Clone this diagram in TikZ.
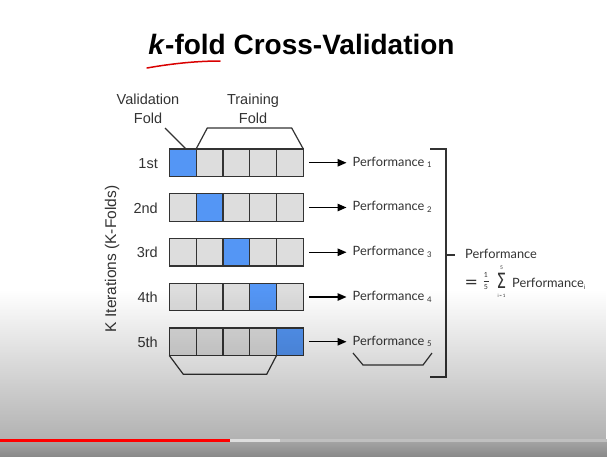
\documentclass[tikz,border=0pt]{standalone}
\usepackage{fontspec}
\setmainfont{Liberation Sans}
\newfontfamily\latofont{Lato}
\newfontfamily\djvfont{DejaVu Sans}
\usetikzlibrary{arrows.meta,fadings}
\definecolor{ink}{HTML}{333333}
\definecolor{cellgray}{HTML}{DDDDDD}
\definecolor{cellblue}{RGB}{84,150,245}
\definecolor{ytred}{RGB}{255,0,0}
\definecolor{ytlight}{RGB}{222,222,222}
\definecolor{ytrest}{RGB}{192,192,192}
\definecolor{ytbot}{RGB}{163,163,163}
\definecolor{ytbotend}{RGB}{138,138,138}
\tikzfading[name=ytfade, top color=transparent!100, bottom color=transparent!0]
\begin{document}
\begin{tikzpicture}[x=1pt,y=-1pt,
  cell/.style={draw=ink, line width=1.2pt, minimum width=26.8pt, minimum height=27.5pt, inner sep=0pt, outer sep=0pt},
  rowlab/.style={font=\fontsize{14.5}{16}\selectfont, text=ink, inner sep=0pt},
  toplab/.style={font=\fontsize{14.5}{16}\selectfont, text=ink, inner sep=0pt, anchor=base},
  perf/.style={font=\latofont\fontsize{12.8}{14}\selectfont, text=ink, inner sep=0pt, anchor=base west},
  brk/.style={draw=ink, line width=1.2pt, line join=miter},
  arr/.style={draw=black, line width=1.3pt, -{Triangle[length=9pt,width=7.5pt]}},
  tinyfont/.style={font=\latofont\fontsize{5}{5}\selectfont, text=ink, inner sep=0pt, anchor=base}
]
\useasboundingbox (0,0) rectangle (607,456);
\fill[white] (0,0) rectangle (607,456);

% title
\node[anchor=base, inner sep=0pt, font=\bfseries\fontsize{28}{30}\selectfont] (title) at (301.5,54) {\textit{k}-fold Cross-Validation};
\draw[red!85!black, line width=1.5pt, line cap=round] (147,68) .. controls (175,63) and (200,61) .. (220,61);

% cells
\foreach \r in {1,...,5}{
  \foreach \c in {1,...,5}{
    \ifnum\r=\c \def\fc{cellblue}\else\def\fc{cellgray}\fi
    \node[cell, fill=\fc] (c\r\c) at ({169.3+26.8*(\c-1)+13.4},{149+44.75*(\r-1)+13.75}) {};
  }
}

% row labels
\foreach \r/\t in {1/1st,2/2nd,3/3rd,4/4th,5/5th}{
  \node[rowlab, anchor=base east] (l\r) at (158,{149+44.75*(\r-1)+19.25}) {\t};
}

% vertical label
\node[rotate=90, inner sep=0pt, text=ink, font=\fontsize{15.5}{17}\selectfont] (kit) at (112,259) {K Iterations (K-Folds)};

% top labels
\node[toplab] (val1) at (148,104) {Validation};
\node[toplab] (val2) at (148,123) {Fold};
\node[toplab] (tr1) at (253,104) {Training};
\node[toplab] (tr2) at (253,123) {Fold};

\coordinate (vl) at (165,128);
\draw[brk] (vl) -- ([xshift=-10pt]c11.north east);
\draw[brk] (c12.north west) -- (207.3,128) -- (291.7,128) -- (c15.north east);
\draw[brk] (c51.south west) -- (183.3,374.3) -- (266.7,374.3) -- (c54.south east);

% performance labels and arrows
\foreach \r in {1,...,5}{
  \node[perf] (p\r) at (352.5,{149+44.75*(\r-1)+17}) {Performance\hspace{2.6pt}\raisebox{-1.8pt}{\fontsize{7.8}{8}\selectfont\r}};
  \draw[arr] ([xshift=6pt]c\r5.east) -- ([xshift=-6pt]c\r5.east -| p\r.west);
}
\draw[brk] (353,353) -- (363,365) -- (423,365) -- (432,353);

% big bracket
\draw[brk] (430,149) -- (446,149) -- (446,377) -- (430,377);
\draw[brk] (446,255) -- (455,255);

% total performance
\node[perf] (ptot) at (465,258.5) {Performance};
\node[anchor=base west, inner sep=0pt, text=ink, font=\djvfont\fontsize{16}{16}\selectfont] (eq) at (464.5,287.5) {=};
\node[tinyfont, font=\latofont\fontsize{7}{7}\selectfont] (f1) at (486,277.5) {1};
\node[tinyfont, font=\latofont\fontsize{7}{7}\selectfont] (f5) at (486,289) {5};
\draw[ink, line width=0.5pt] (483.5,280.8) -- (488.5,280.8);
\node[anchor=base, inner sep=0pt, text=ink, font=\djvfont\fontsize{21}{21}\selectfont] (sig) at (501.5,288.5) {\scalebox{0.72}[1]{Σ}};
\node[tinyfont] (s5) at (501.5,269.5) {5};
\node[tinyfont, font=\latofont\fontsize{4.5}{5}\selectfont] (si) at (501.5,297) {i\,=\,1};
\node[perf] (pf) at (512,287) {Performance\raisebox{-2.5pt}{\fontsize{6}{6}\selectfont i}};

% video overlay
\fill[black, fill opacity=0.30, path fading=ytfade] (0,290) rectangle (607,439);
\shade[top color=ytbot, bottom color=ytbotend] (0,442) rectangle (607,456);
\fill[ytrest] (0,439) rectangle (607,442);
\fill[ytlight] (230,439) rectangle (279.5,442);
\fill[ytred] (0,439) rectangle (230,442);
\end{tikzpicture}
\end{document}
